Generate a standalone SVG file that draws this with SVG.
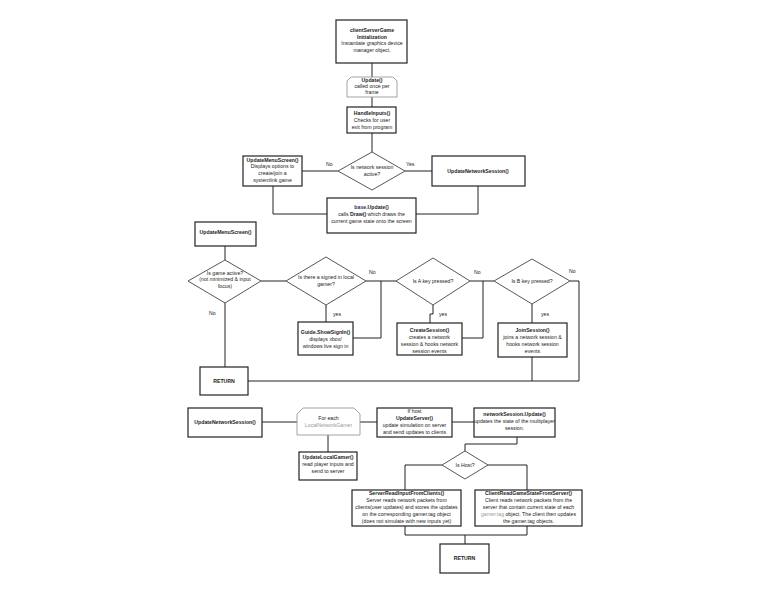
<svg xmlns="http://www.w3.org/2000/svg" width="768" height="594" viewBox="0 0 768 594">
<style>
text{font-family:"Liberation Sans",Arial,sans-serif;font-size:5.2px;fill:#222;text-anchor:middle}
.b{font-weight:bold}
.g{fill:#999}
.n{fill:#1f3070}
.box{fill:#fff;stroke:#222;stroke-width:1.2}
.dia{fill:#fff;stroke:#444;stroke-width:0.9}
.lim{fill:#fff;stroke:#999;stroke-width:0.9}
.c{fill:none;stroke:#222;stroke-width:1}
.lb{text-anchor:start}
</style>
<rect width="768" height="594" fill="#fff"/>
<g id="connectors">
<path class="c" d="M372,63 V77 M372,97 V107 M372,133 V152"/>
<path class="c" d="M338,171 H302 M405,171 H432"/>
<path class="c" d="M273,186 V214 H327 M478,186 V214 H416"/>
<path class="c" d="M225,246 V260 M261,281 H286 M366,281 H396 M470,281 H494"/>
<path class="c" d="M225,303 V367 M248,381 H579 V281 H570"/>
<path class="c" d="M326,305 V322 M353,338 H381 V281"/>
<path class="c" d="M433,305 V314 H430 V323 M462,338 H483 V281"/>
<path class="c" d="M532,304 V323 M532,357 V381"/>
<path class="c" d="M262,422 H297 M360,422 H377 M452,422 H474 M328,435 V452"/>
<path class="c" d="M517,437 V444 H465 V451"/>
<path class="c" d="M442,465 H405 V490 M488,465 H527 V490"/>
<path class="c" d="M405,526 V535 H527 V526 M465,535 V544"/>
</g>
<g id="labels">
<text class="lb" x="326" y="166">No</text>
<text class="lb" x="406" y="166">Yes</text>
<text class="lb" x="209" y="315">No</text>
<text class="lb" x="369" y="274">No</text>
<text class="lb" x="333" y="316">yes</text>
<text class="lb" x="474" y="274">No</text>
<text class="lb" x="439" y="316">yes</text>
<text class="lb" x="569" y="273">No</text>
<text class="lb" x="541" y="316">yes</text>
</g>
<g id="init">
<rect class="box" x="336" y="20" width="71" height="43"/>
<text class="b" x="372" y="32">clientServerGame</text>
<text class="b" x="372" y="38.5">Initialization</text>
<text x="372" y="45">Instantiate graphics device</text>
<text x="372" y="52">manager object.</text>
</g>
<g id="update">
<path class="lim" d="M351,77 H393 L397,81 V97 H347 V81 Z"/>
<text class="b" x="372" y="81.5">Update()</text>
<text x="372" y="88">called once per</text>
<text x="372" y="94">frame</text>
</g>
<g id="handleInputs">
<rect class="box" x="347" y="107" width="49" height="26"/>
<text class="b" x="372" y="115">HandleInputs()</text>
<text x="372" y="122">Checks for user</text>
<text x="372" y="129">exit from program</text>
</g>
<g id="isNetworkActive">
<path class="dia" d="M372,152 L405,171 L372,190 L338,171 Z"/>
<text x="372" y="169">Is network session</text>
<text x="372" y="176">active?</text>
</g>
<g id="updateMenuScreen1">
<rect class="box" x="243" y="156" width="59" height="30"/>
<text class="b" x="272.5" y="161.5">UpdateMenuScreen()</text>
<text x="272.5" y="168">Displays options to</text>
<text x="272.5" y="175">create/join a</text>
<text x="272.5" y="182">systemlink game</text>
</g>
<g id="updateNetworkSession1">
<rect class="box" x="432" y="156" width="93" height="30"/>
<text class="b" x="478" y="172.5">UpdateNetworkSession()</text>
</g>
<g id="baseUpdate">
<rect class="box" x="327" y="198" width="89" height="35"/>
<text class="b" x="371.5" y="209"><tspan class="n">base</tspan>.Update()</text>
<text x="371.5" y="216">calls <tspan class="b">Draw()</tspan> which draws the</text>
<text x="371.5" y="223">current game state onto the screen</text>
</g>
<g id="updateMenuScreen2">
<rect class="box" x="195" y="222" width="61" height="24"/>
<text class="b" x="225.5" y="233.5">UpdateMenuScreen()</text>
</g>
<g id="isGameActive">
<path class="dia" d="M225,260 L261,281 L225,303 L188,281 Z"/>
<text x="225" y="274.5">Is game active?</text>
<text x="225" y="281">(not minimized &amp; input</text>
<text x="225" y="288">focus)</text>
</g>
<g id="isSignedIn">
<path class="dia" d="M326,257 L366,281 L326,305 L286,281 Z"/>
<text x="326" y="279">Is there a signed in local</text>
<text x="326" y="286">gamer?</text>
</g>
<g id="isAKey">
<path class="dia" d="M433,258 L470,281 L433,305 L396,281 Z"/>
<text x="433" y="283">Is A key pressed?</text>
</g>
<g id="isBKey">
<path class="dia" d="M532,259 L570,281 L532,304 L494,281 Z"/>
<text x="532" y="283">Is B key pressed?</text>
</g>
<g id="guideShowSignIn">
<rect class="box" x="298" y="322" width="55" height="33"/>
<text class="b" x="325.5" y="334">Guide.ShowSignIn()</text>
<text x="325.5" y="341">displays xbox/</text>
<text x="325.5" y="348">windows live sign in</text>
</g>
<g id="createSession">
<rect class="box" x="397" y="323" width="65" height="32"/>
<text class="b" x="429.5" y="331.5">CreateSession()</text>
<text x="429.5" y="338.5">creates a network</text>
<text x="429.5" y="345.5">session &amp; hooks network</text>
<text x="429.5" y="352.5">session events</text>
</g>
<g id="joinSession">
<rect class="box" x="498" y="323" width="69" height="34"/>
<text class="b" x="532.5" y="332">JoinSession()</text>
<text x="532.5" y="339">joins a network session &amp;</text>
<text x="532.5" y="346">hooks network session</text>
<text x="532.5" y="353">events</text>
</g>
<g id="return1">
<rect class="box" x="200" y="367" width="48" height="28"/>
<text class="b" x="224" y="382.5">RETURN</text>
</g>
<g id="updateNetworkSession2">
<rect class="box" x="188" y="408" width="74" height="29"/>
<text class="b" x="225" y="423.5">UpdateNetworkSession()</text>
</g>
<g id="forEach">
<path class="lim" d="M303,408 H354 L360,414 V435 H297 V414 Z"/>
<text x="328.5" y="420">For each</text>
<text class="g" x="328.5" y="427">LocalNetworkGamer</text>
</g>
<g id="updateLocalGamer">
<rect class="box" x="299" y="452" width="58" height="28"/>
<text class="b" x="328" y="459">UpdateLocalGamer()</text>
<text x="328" y="466">read player inputs and</text>
<text x="328" y="473">send to server</text>
</g>
<g id="updateServer">
<rect class="box" x="377" y="408" width="75" height="29"/>
<text x="414.5" y="412.5">If host</text>
<text class="b" x="414.5" y="419.5">UpdateServer()</text>
<text x="414.5" y="426.5">update simulation on server</text>
<text x="414.5" y="433.5">and send updates to clients</text>
</g>
<g id="networkSessionUpdate">
<rect class="box" x="474" y="408" width="81" height="29"/>
<text class="b" x="514.5" y="416">networkSession.Update()</text>
<text x="514.5" y="423">updates the state of the multiplayer</text>
<text x="514.5" y="430">session.</text>
</g>
<g id="isHost">
<path class="dia" d="M465,451 L488,465 L465,479 L442,465 Z"/>
<text x="465" y="467">Is Host?</text>
</g>
<g id="serverReadInput">
<rect class="box" x="352" y="490" width="109" height="36"/>
<text class="b" x="406.5" y="495">ServerReadInputFromClients()</text>
<text x="406.5" y="502">Server reads network packets from</text>
<text x="406.5" y="509">clients(user updates) and stores the updates</text>
<text x="406.5" y="516">on the corresponding gamer.tag object</text>
<text x="406.5" y="523">(does not simulate with new inputs yet)</text>
</g>
<g id="clientReadGameState">
<rect class="box" x="475" y="490" width="107" height="36"/>
<text class="b" x="528.5" y="495">ClientReadGameStateFromServer()</text>
<text x="528.5" y="502">Client reads network packets from the</text>
<text x="528.5" y="509">server that contain current state of each</text>
<text x="528.5" y="516"><tspan class="g">gamer.tag</tspan> object. The client then updates</text>
<text x="528.5" y="523">the gamer.tag objects.</text>
</g>
<g id="return2">
<rect class="box" x="440" y="544" width="49" height="29"/>
<text class="b" x="464.5" y="560">RETURN</text>
</g>
</svg>
